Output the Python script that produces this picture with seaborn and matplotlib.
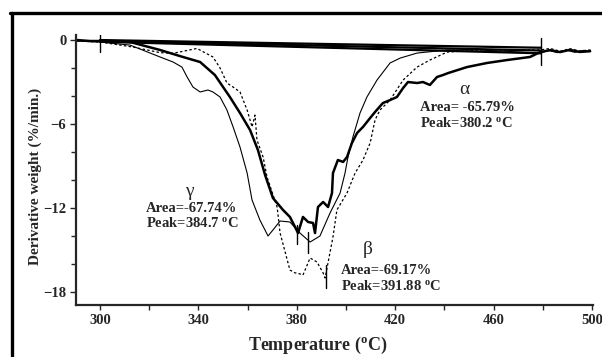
import numpy as np
import pandas as pd
import matplotlib
matplotlib.use("Agg")
import matplotlib.pyplot as plt
from matplotlib.lines import Line2D
import seaborn as sns

# ---------------- data ----------------
alpha_T = [290.5, 295.9, 300.0, 312.2, 324.4, 333.7, 340.7, 346.7, 352.8, 356.9, 361.0,
           364.2, 367.1, 370.3, 374.4, 377.2, 379.3, 380.5, 382.5, 384.6, 386.6, 387.4,
           388.6, 390.7, 392.7, 394.3, 394.7, 396.7, 398.8, 400.4, 402.4, 404.5, 406.9,
           409.8, 411.8, 415.0, 417.9, 420.7, 423.2, 425.2, 428.9, 431.3, 434.1, 437.0,
           439.4, 441.5, 449.2, 457.3, 465.4, 474.8, 478.9, 483.0, 487.0, 491.0, 495.0, 499.2]
alpha_v = [0.0, -0.07, -0.07, -0.14, -0.71, -1.21, -1.57, -2.5, -4.07, -5.21, -6.43,
           -7.86, -9.64, -11.29, -12.14, -12.64, -13.36, -13.79, -12.64, -13.0, -13.07, -13.79,
           -11.93, -11.57, -11.93, -10.93, -9.5, -8.57, -8.71, -8.36, -7.36, -6.64, -6.21,
           -5.57, -5.14, -4.5, -4.29, -4.07, -3.43, -3.0, -3.07, -3.0, -3.21, -2.64,
           -2.5, -2.36, -1.93, -1.64, -1.43, -1.21, -0.86, -0.72, -0.86, -0.7, -0.85, -0.8]

gamma_T = [290.5, 300.0, 312.2, 324.4, 329.7, 333.3, 335.4, 337.8, 340.7, 343.9, 345.9,
           348.8, 351.6, 354.1, 356.9, 359.8, 361.8, 365.0, 368.3, 370.3, 373.2, 377.2,
           381.3, 385.4, 389.4, 393.5, 397.6, 399.6, 400.8, 402.8, 405.7, 408.5, 412.6,
           417.9, 422.0, 428.9, 441.1, 454.5, 478.9, 482.5, 486.0, 489.5, 493.0, 496.5, 499.5]
gamma_v = [-0.07, -0.14, -0.36, -1.21, -1.57, -1.93, -2.64, -3.36, -3.71, -3.57, -3.71,
           -4.07, -5.0, -6.21, -7.64, -9.5, -11.43, -12.86, -14.0, -13.57, -12.93, -13.0,
           -13.79, -14.43, -14.0, -12.36, -10.93, -9.5, -8.36, -6.93, -5.21, -4.07, -2.86,
           -1.64, -1.29, -0.93, -0.71, -0.71, -0.93, -0.75, -0.9, -0.72, -0.88, -0.74, -0.8]

beta_T = [290.5, 300.0, 313.4, 324.4, 329.7, 339.4, 345.9, 348.8, 351.6, 354.1, 356.9,
          359.8, 361.8, 363.0, 363.8, 366.3, 367.9, 372.0, 373.2, 377.2, 379.3, 380.1,
          382.5, 385.4, 388.2, 390.7, 391.5, 394.7, 396.3, 400.4, 403.7, 406.9, 409.8,
          411.8, 413.8, 417.9, 423.2, 428.9, 434.1, 441.1, 454.5, 478.9, 483.0, 487.0,
          491.0, 495.0, 499.5]
beta_v = [-0.07, -0.14, -0.5, -0.9, -0.95, -0.6, -1.21, -2.0, -3.07, -3.36, -3.71,
          -5.0, -6.21, -5.36, -7.14, -8.36, -9.79, -11.93, -13.79, -16.43, -16.64, -16.64,
          -16.79, -15.57, -15.86, -16.64, -17.0, -14.07, -12.14, -10.93, -9.5, -8.57, -7.36,
          -5.71, -5.0, -4.29, -2.86, -1.93, -1.43, -0.86, -0.71, -0.71, -0.6, -0.8,
          -0.62, -0.78, -0.7]

# integration baselines (start / end temperature and values)
base_T = [300.0, 479.3]
base_v = [[0.0, -0.55], [-0.05, -0.75], [-0.12, -0.95]]

peaks_T = [380.2, 384.7, 391.88]       # alpha, gamma, beta
peak_span = [(-13.2, -14.6), (-13.7, -15.2), (-16.1, -17.7)]

labels = {
    "alpha": ("α", "Area= -65.79%", "Peak=380.2 $^{\\mathbf{o}}$C"),
    "gamma": ("γ", "Area=-67.74%", "Peak=384.7 $^{\\mathbf{o}}$C"),
    "beta": ("β", "Area=-69.17%", "Peak=391.88 $^{\\mathbf{o}}$C"),
}

x_major = [300, 340, 380, 420, 460, 500]
y_major = [0, -6, -12, -18]

# ---------------- style ----------------
sns.set_style("ticks")
plt.rcParams["font.family"] = ["Liberation Serif", "DejaVu Serif"]
plt.rcParams["font.weight"] = "bold"
plt.rcParams["mathtext.fontset"] = "custom"
plt.rcParams["mathtext.rm"] = "Liberation Serif:bold"
plt.rcParams["mathtext.bf"] = "Liberation Serif:bold"
plt.rcParams["mathtext.it"] = "Liberation Serif:bold"

W, H = 602, 357
fig = plt.figure(figsize=(W / 100, H / 100), dpi=100)
ax = fig.add_axes([76 / W, (H - 305) / H, (593 - 76) / W, (305 - 35) / H])

df_a = pd.DataFrame({"T": alpha_T, "v": alpha_v})
df_g = pd.DataFrame({"T": gamma_T, "v": gamma_v})
df_b = pd.DataFrame({"T": beta_T, "v": beta_v})

# baselines
for bv in base_v:
    sns.lineplot(x=base_T, y=bv, ax=ax, color="black", lw=1.6, sort=False)

sns.lineplot(data=df_g, x="T", y="v", ax=ax, color="black", lw=0.8, sort=False)
sns.lineplot(data=df_b, x="T", y="v", ax=ax, color="black", lw=0.9,
             linestyle=(0, (2.0, 1.8)), sort=False)
sns.lineplot(data=df_a, x="T", y="v", ax=ax, color="black", lw=1.8, sort=False)

# integration limit markers
ax.plot([base_T[0], base_T[0]], [0.5, -0.86], color="black", lw=1.0)
ax.plot([base_T[1], base_T[1]], [0.14, -1.79], color="black", lw=1.0)
# peak markers
for pt, (y0, y1) in zip(peaks_T, peak_span):
    ax.plot([pt, pt], [y0, y1], color="black", lw=1.0)

ax.set_xlim(290.24, 500.4)
ax.set_ylim(-18.93, 0.36)

ax.set_xticks(x_major)
ax.set_xticks([320, 360, 400, 440, 480], minor=True)
ax.set_yticks(y_major)
ax.set_yticks([-2, -4, -8, -10, -14, -16], minor=True)
ax.tick_params(axis="both", which="both", direction="out", length=3.5, width=1.0,
               labelsize=10.5, pad=3)
ax.tick_params(axis="y", which="major", length=4)
for lab in ax.get_xticklabels() + ax.get_yticklabels():
    lab.set_fontweight("bold")

sns.despine(ax=ax)
ax.spines["left"].set_linewidth(1.6)
ax.spines["bottom"].set_linewidth(1.6)
ax.set_xlabel("")
ax.set_ylabel("")

# axis titles
fig.text(318 / W, 1 - 345 / H, "Temperature ($^{\\mathbf{o}}$C)", ha="center", va="center",
         fontsize=13, fontweight="bold")
fig.text(35 / W, 1 - 176 / H, "Derivative weight (%/min.)", ha="center", va="center",
         rotation=90, fontsize=11, fontweight="bold")

# annotations
def annot(greek_xy, left_T, area_v, peak_v, key):
    g, a, p = labels[key]
    ax.text(greek_xy[0], greek_xy[1], g, ha="center", va="center", fontsize=14,
            fontweight="normal")
    ax.text(left_T, area_v, a, ha="left", va="center", fontsize=10.5, fontweight="bold")
    ax.text(left_T, peak_v, p, ha="left", va="center", fontsize=10.5, fontweight="bold")

annot((448.0, -3.5), 430.1, -4.79, -5.93, "alpha")
annot((336.2, -10.8), 318.7, -12.07, -13.07, "gamma")
annot((408.9, -14.95), 398.0, -16.43, -17.57, "beta")

# outer frame (open at right and bottom)
fig.add_artist(Line2D([11.5 / W, 11.5 / W], [0, 1 - 13 / H], transform=fig.transFigure,
                      color="black", lw=2.4))
fig.add_artist(Line2D([10.3 / W, 1], [1 - 13 / H, 1 - 13 / H], transform=fig.transFigure,
                      color="black", lw=2.4))

fig.savefig("out.png", dpi=100)
